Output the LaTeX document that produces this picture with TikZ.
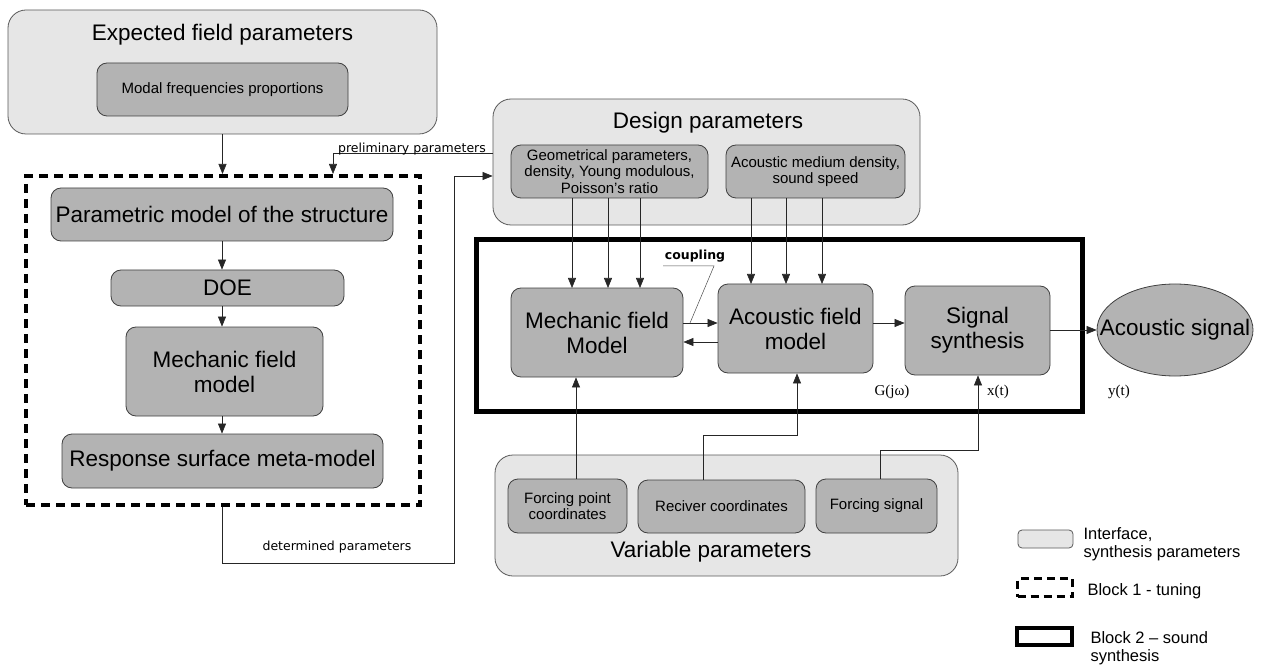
\documentclass[tikz,border=0pt]{standalone}
\usepackage{fontspec}
\setmainfont{Liberation Sans}
\newfontfamily\labfont{DejaVu Sans}
\newfontfamily\serfont{Liberation Serif}
\usetikzlibrary{arrows.meta,calc,shapes.geometric}
\definecolor{outerfill}{HTML}{E6E6E6}
\definecolor{innerfill}{HTML}{B3B3B3}
\begin{document}
\begin{tikzpicture}[x=1pt,y=-1pt,
  outer/.style={draw=black!65, fill=outerfill, rounded corners=18pt, line width=0.8pt, inner sep=0pt},
  inner/.style={draw=black!75, fill=innerfill, rounded corners=10pt, line width=0.8pt, inner sep=0pt, align=center},
  tbig/.style={font=\fontsize{22.5}{25}\selectfont},
  tmid/.style={font=\fontsize{15}{16.5}\selectfont},
  tlab/.style={font=\labfont\fontsize{12.5}{14}\selectfont},
  tser/.style={font=\serfont\fontsize{15}{17}\selectfont},
  tleg/.style={font=\fontsize{16.5}{18}\selectfont, align=left},
  arr/.style={-{Triangle[length=10pt,width=8pt]}, line width=0.6pt, draw=black!85},
  ln/.style={line width=0.6pt, draw=black!85},
  dashbox/.style={draw, line width=4pt, dash pattern=on 9pt off 6pt},
  thickbox/.style={draw, line width=5pt},
]
\useasboundingbox (0,0) rectangle (1263,668);

% ---------- Expected field parameters ----------
\node[outer, minimum width=429, minimum height=124] (efp) at (222.5,72) {};
\node[tbig] (efpt) at (222.5,35) {Expected field parameters};
\node[inner, tmid, minimum width=251, minimum height=53] (mfp) at (222.5,89.5) {Modal frequencies proportions};

% ---------- Block 1 ----------
\node[dashbox, minimum width=394, minimum height=329, inner sep=0pt] (b1) at (223,340.5) {};
\node[inner, tbig, minimum width=342, minimum height=53] (pms) at (222,214.5) {Parametric model of the structure};
\node[inner, tbig, minimum width=233, minimum height=36] (doe) at (227.5,288) {DOE};
\node[inner, tbig, minimum width=197, minimum height=89] (mfm1) at (224.5,371.5) {Mechanic field\\model};
\node[inner, tbig, minimum width=321, minimum height=54] (rsm) at (222.5,461) {Response surface meta-model};

% ---------- Design parameters ----------
\node[outer, minimum width=427, minimum height=126] (dp) at (706.5,162) {};
\node[tbig] (dpt) at (708,123) {Design parameters};
\node[inner, tmid, minimum width=197, minimum height=53] (geo) at (609.5,171.5) {Geometrical parameters,\\density, Young modulous,\\Poisson's ratio};
\node[inner, tmid, minimum width=179, minimum height=53] (acm) at (815.5,171.5) {Acoustic medium density,\\sound speed};

% ---------- Block 2 ----------
\node[thickbox, minimum width=606, minimum height=171, inner sep=0pt] (b2) at (779,325.5) {};
\node[inner, tbig, minimum width=172, minimum height=89] (mfm2) at (597,332.5) {Mechanic field\\Model};
\node[inner, tbig, minimum width=155, minimum height=89] (afm) at (795.5,328.5) {Acoustic field\\model};
\node[inner, tbig, minimum width=145, minimum height=89] (sig) at (977.5,330.5) {Signal\\synthesis};
\node[ellipse, draw=black!75, fill=innerfill, line width=0.8pt, inner sep=0pt, minimum width=156, minimum height=92] (as) at (1175,330) {};
\node[tbig] (ast) at (as.center) {Acoustic signal};

\node[tser] (gjw) at (892,392) {G(jω)};
\node[tser] (xt) at (998,392) {x(t)};
\node[tser] (yt) at (1119,392) {y(t)};

% ---------- Variable parameters ----------
\node[outer, minimum width=463, minimum height=121] (vp) at (726.5,515.5) {};
\node[tbig] (vpt) at (711,552) {Variable parameters};
\node[inner, tmid, minimum width=119, minimum height=54] (fpc) at (567.5,506) {Forcing point\\coordinates};
\node[inner, tmid, minimum width=167, minimum height=53] (rc) at (721.5,506.5) {Reciver coordinates};
\node[inner, tmid, minimum width=121, minimum height=54] (fs) at (876.5,506) {Forcing signal};

% ---------- coordinates for bends ----------
\coordinate (pp1) at (493,153);
\coordinate (pp2) at (333,153);
\coordinate (dd1) at (222,563);
\coordinate (dd2) at (454,563);
\coordinate (dd3) at (454,176);
\coordinate (rc1) at (703,435);
\coordinate (rc2) at (797,435);
\coordinate (fs1) at (880,450);
\coordinate (fs2) at (978,450);
\coordinate (cp1) at (663,266);
\coordinate (cp2) at (714,266);
\coordinate (cp3) at (690,323);

% ---------- connectors, block 1 ----------
\draw[arr] (efp.south) -- (efp.south |- b1.north);
\draw[arr] (pp1) -- (pp2) -- (pp2 |- b1.north);
\node[tlab, anchor=south] (plab) at (412,159) {preliminary parameters};
\draw[arr] (pms.south) -- (pms.south |- doe.north);
\draw[arr] (pms.south |- doe.south) -- (pms.south |- mfm1.north);
\draw[arr] (pms.south |- mfm1.south) -- (pms.south |- rsm.north);
\draw[arr] (dd1 |- b1.south) -- (dd1) -- (dd2) -- (dd3) -- (dd3 -| dp.west);
\node[tlab, anchor=south] (dlab) at (337,557) {determined parameters};

% ---------- connectors, design -> block 2 ----------
\foreach \xx in {572,608,640}{\draw[arr] (\xx,198) -- (\xx,288);}
\foreach \xx in {751,786,822}{\draw[arr] (\xx,198) -- (\xx,284);}

\draw[arr] (mfm2.east |- cp3) -- (afm.west |- cp3);
\draw[arr] (afm.west |- 0,342) -- (mfm2.east |- 0,342);
\draw[arr] (afm.east |- cp3) -- (sig.west |- cp3);
\draw[arr] (sig.east |- as.west) -- (as.west);

\node[font=\labfont\bfseries\fontsize{12.5}{14}\selectfont] (cpl) at (695,256) {coupling};
\draw[line width=0.5pt, draw=black!70] (cp1) -- (cp2) -- (cp3);

% ---------- variable -> block 2 ----------
\draw[arr] (fpc.north -| 576,0) -- (mfm2.south -| 576,0);
\draw[arr] (rc1 |- rc.north) -- (rc1) -- (rc2) -- (rc2 |- afm.south);
\draw[arr] (fs1 |- fs.north) -- (fs1) -- (fs2) -- (fs2 |- sig.south);

% ---------- legend ----------
\node[draw=black!65, fill=outerfill, rounded corners=4pt, line width=0.8pt, minimum width=55, minimum height=18, inner sep=0pt] (lg1) at (1045.5,539) {};
\node[tleg, anchor=west] (lg1t) at (1080,544) {Interface,\\synthesis parameters};
\node[draw, line width=3.5pt, dash pattern=on 8pt off 5pt, minimum width=55, minimum height=18, inner sep=0pt] (lg2) at (1045,587.5) {};
\node[tleg, anchor=west] (lg2t) at (1084,591) {Block 1 - tuning};
\node[draw, line width=4pt, minimum width=55, minimum height=17, inner sep=0pt] (lg3) at (1044.5,636.5) {};
\node[tleg, anchor=west] (lg3t) at (1087,648) {Block 2 -- sound\\synthesis};
\end{tikzpicture}
\end{document}
